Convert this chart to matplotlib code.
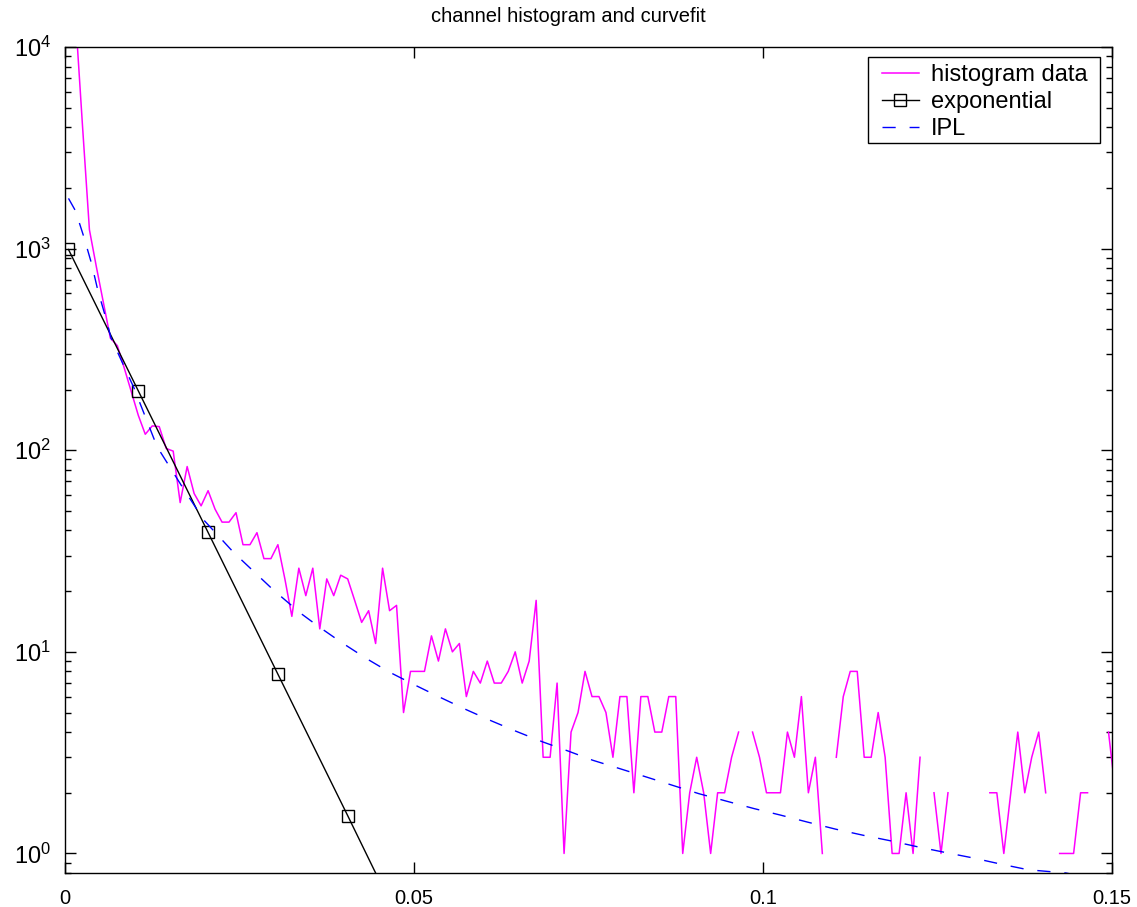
import matplotlib
matplotlib.use("Agg")
import matplotlib.pyplot as plt
from matplotlib.patches import Rectangle
import numpy as np

plt.rcParams['font.family'] = ['Liberation Sans', 'DejaVu Sans']
plt.rcParams['mathtext.fontset'] = 'custom'
plt.rcParams['mathtext.rm'] = 'Liberation Sans'
plt.rcParams['mathtext.it'] = 'Liberation Sans:italic'

# histogram bins (centres) and counts, 0 = empty bin
bin_x = [0.0005 + 0.001 * i for i in range(151)]
hist_counts = [50000, 14200, 4100, 1240, 810, 540, 360, 330, 255, 195,
               149, 120, 132, 131, 102, 99, 55, 83, 61, 53,
               63, 51, 44, 44, 49, 34, 34, 39, 29, 29,
               34, 23, 15, 26, 19, 26, 13, 23, 19, 24,
               23, 18, 14, 16, 11, 26, 16, 17, 5, 8,
               8, 8, 12, 9, 13, 10, 11, 6, 8, 7,
               9, 7, 7, 8, 10, 7, 9, 18, 3, 3,
               7, 1, 4, 5, 8, 6, 6, 5, 3, 6,
               6, 2, 6, 6, 4, 4, 6, 6, 1, 2,
               3, 2, 1, 2, 2, 3, 4, 0, 4, 3,
               2, 2, 2, 4, 3, 6, 2, 3, 1, 0,
               3, 6, 8, 8, 3, 3, 5, 3, 1, 1,
               2, 1, 3, 0, 2, 1, 2, 0, 1, 0,
               1, 0, 2, 2, 1, 2, 4, 2, 3, 4,
               2, 0, 1, 1, 1, 2, 2, 0, 0, 4,
               2]

# exponential fit
exp_x = [0.0005, 0.0105, 0.0205, 0.0305, 0.0405, 0.0505]
exp_y = [990, 197, 39.1, 7.75, 1.54, 0.30]

# inverse power law fit
ipl_x = [0.0005, 0.0015, 0.0027, 0.0038, 0.0047, 0.0058, 0.0066, 0.0099,
         0.0132, 0.0168, 0.0199, 0.0242, 0.0299, 0.0338, 0.0364, 0.0395,
         0.0431, 0.0464, 0.0500, 0.0536, 0.0572, 0.0610, 0.0646, 0.0684,
         0.0722, 0.0756, 0.0794, 0.0832, 0.0870, 0.0908, 0.0947, 0.0987,
         0.1025, 0.1064, 0.1104, 0.1144, 0.1183, 0.1221, 0.1262, 0.1301,
         0.1341, 0.1380, 0.1434, 0.1500]
ipl_y = [1775, 1540, 1143, 844, 622, 459, 360, 203,
         104, 65.8, 45, 31, 20.2, 15.5, 13.3, 11.2,
         9.3, 7.96, 6.88, 5.98, 5.22, 4.56, 4.04, 3.58,
         3.21, 2.9, 2.64, 2.4, 2.18, 1.98, 1.82, 1.67,
         1.55, 1.43, 1.32, 1.23, 1.155, 1.08, 1.01, 0.95,
         0.885, 0.83, 0.80, 0.72]

hist_plot = np.array(hist_counts, dtype=float)
hist_plot[hist_plot == 0] = np.nan

fig = plt.figure(figsize=(11.37, 9.07), dpi=100)
ax = fig.add_axes([65 / 1137, 1 - 873 / 907, (1112 - 65) / 1137, (873 - 47) / 907])

ax.plot(bin_x, hist_plot, color='#ff00ff', lw=1.1, label='histogram data')
ax.plot(exp_x, exp_y, color='black', lw=1.0, marker='s', ms=8.5,
        mfc='none', mec='black', mew=1.0, label='exponential')
ax.plot(ipl_x, ipl_y, color='#0000ff', lw=1.0, ls=(0, (9.5, 10)), label='IPL')

ax.set_yscale('log')
ax.set_xlim(0, 0.15)
ax.set_ylim(0.8, 1e4)

ax.set_xticks([0, 0.05, 0.1, 0.15])
ax.set_xticklabels(['0', '0.05', '0.1', '0.15'])
ax.set_yticks([1, 10, 100, 1000, 10000])
ax.set_yticklabels([r'$10^{0}$', r'$10^{1}$', r'$10^{2}$', r'$10^{3}$', r'$10^{4}$'])

ax.tick_params(which='both', direction='in', top=True, right=True, labelsize=14.5)
ax.tick_params(which='major', length=8, width=1)
ax.tick_params(which='minor', length=4.5, width=1)
ax.tick_params(axis='x', pad=11.5)
ax.tick_params(axis='y', labelsize=17, pad=10)
for s in ax.spines.values():
    s.set_linewidth(1.0)

ax.set_title('channel histogram and curvefit', fontsize=14.5, pad=18, x=0.481)

# legend without its own frame; a wider box is drawn round it below
leg = ax.legend(loc='upper right', bbox_to_anchor=(1 - 20 / 1047, 1 - 13 / 826),
                borderaxespad=0, fontsize=17, frameon=False, handlelength=1.6,
                handletextpad=0.5, labelspacing=0.21, borderpad=0.18)

fig.canvas.draw()
bb = leg.get_window_extent(fig.canvas.get_renderer())
box = Rectangle((bb.x0 - 9, bb.y0 + 1), bb.width + 17, bb.height + 2,
                transform=None, facecolor='white', edgecolor='black',
                lw=1.0, zorder=4)
ax.add_artist(box)
leg.set_zorder(5)

plt.savefig('out.png', dpi=100)
